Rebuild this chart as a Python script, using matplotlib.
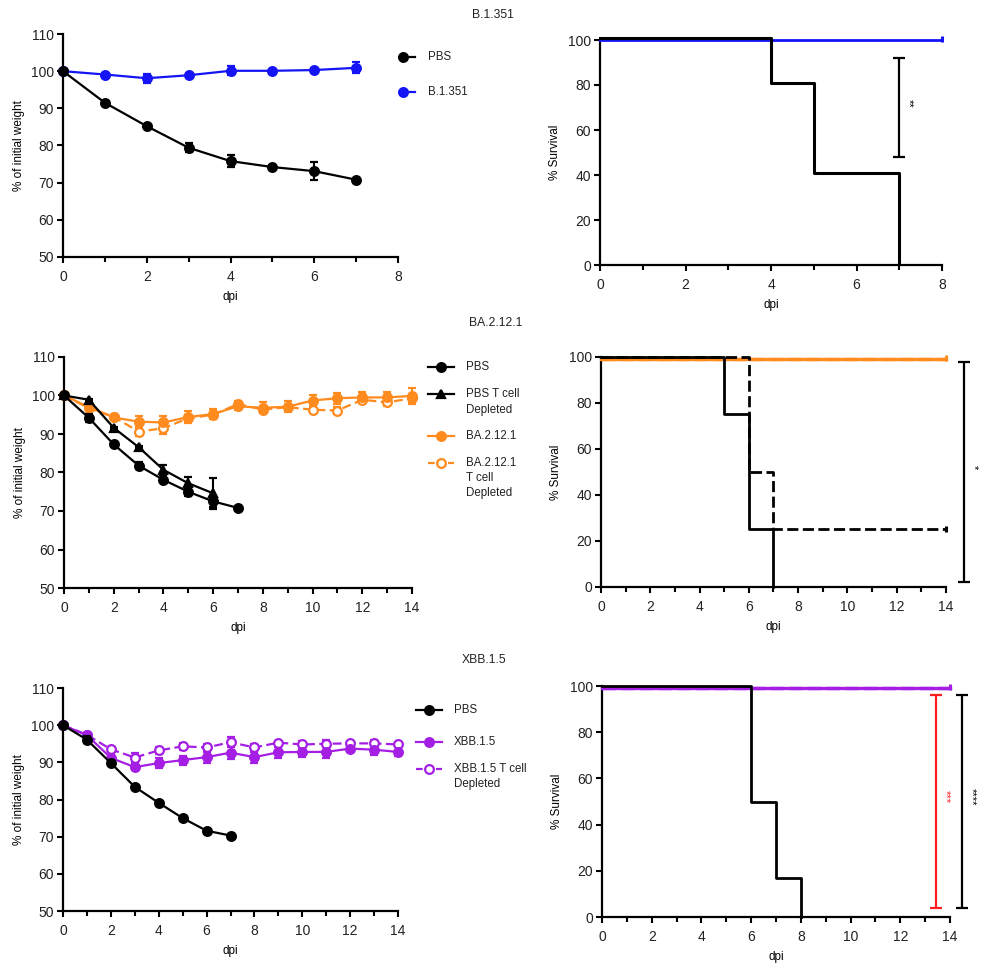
import numpy as np
import matplotlib
matplotlib.use('Agg')
import matplotlib.pyplot as plt
from matplotlib.transforms import offset_copy
from matplotlib.ticker import MultipleLocator

plt.rcParams['font.family'] = ['Liberation Sans', 'DejaVu Sans']
plt.rcParams['font.size'] = 8.5
plt.rcParams['text.color'] = '#222222'

W, H, DPI = 984, 971, 100
BLACK = '#000000'; BLUE = '#1414f5'; ORANGE = '#ff8a1e'; PURPLE = '#a41fe3'; RED = '#ff1f1f'
TICK_FS = 10
LAB_FS = 8.5
LEG_FS = 8.3
TITLE_FS = 8.7

# ---------------- data ----------------
titles = ['B.1.351', 'BA.2.12.1', 'XBB.1.5']

# Panel 1 weight (B.1.351)
w1_days = [0, 1, 2, 3, 4, 5, 6, 7]
w1_pbs = [100, 91.5, 85.2, 79.4, 75.8, 74.2, 73.1, 70.8]
w1_pbs_err = [0, 0.3, 0.3, 1.2, 1.7, 0.3, 2.4, 0.3]
w1_var = [100, 99.1, 98.1, 98.9, 100.1, 100.1, 100.3, 100.9]
w1_var_err = [0, 0.3, 1.2, 0.3, 1.2, 0.3, 0.3, 1.5]

# Panel 2 weight (BA.2.12.1)
w2_days_pbs = [0, 1, 2, 3, 4, 5, 6, 7]
w2_pbs = [100, 94.2, 87.3, 81.8, 78.1, 75.0, 72.5, 70.8]
w2_pbs_err = [0, 1.0, 0.3, 1.0, 0.3, 1.0, 1.5, 0.3]
w2_days_pbst = [0, 1, 2, 3, 4, 5, 6]
w2_pbst = [100, 98.9, 91.6, 86.6, 80.7, 77.2, 74.6]
w2_pbst_err = [0, 0.3, 0.3, 0.3, 1.3, 1.6, 4.0]
w2_days_var = list(range(15))
w2_var = [100, 97.0, 94.3, 93.2, 93.0, 94.4, 95.2, 97.2, 96.8, 97.1, 98.7, 99.3, 99.5, 99.5, 99.9]
w2_var_err = [0, 0.5, 0.5, 1.5, 1.8, 1.5, 1.3, 1.0, 1.4, 1.4, 1.5, 1.4, 1.5, 1.3, 2.0]
w2_vart = [100, 96.7, 94.5, 90.6, 91.5, 94.1, 95.0, 97.8, 96.3, 97.0, 96.3, 96.1, 98.9, 98.2, 99.3]
w2_vart_err = [0, 0.5, 0.5, 1.0, 1.5, 0.8, 0.8, 0.8, 0.8, 0.8, 0.8, 0.8, 0.8, 0.8, 1.0]

# Panel 3 weight (XBB.1.5)
w3_days_pbs = [0, 1, 2, 3, 4, 5, 6, 7]
w3_pbs = [100, 96.1, 89.8, 83.4, 79.1, 75.0, 71.6, 70.3]
w3_pbs_err = [0, 1.0, 0.3, 0.3, 0.3, 0.3, 0.3, 0.3]
w3_days_var = list(range(15))
w3_var = [100, 97.3, 91.2, 88.7, 89.8, 90.6, 91.4, 92.6, 91.4, 92.7, 92.8, 92.8, 93.7, 93.4, 92.8]
w3_var_err = [0, 0.5, 0.5, 0.8, 1.3, 1.2, 1.5, 1.8, 1.5, 1.5, 1.3, 1.5, 1.0, 1.5, 1.2]
w3_vart = [100, 97.4, 93.5, 91.3, 93.2, 94.3, 94.0, 95.4, 94.0, 95.3, 94.8, 95.0, 95.1, 95.1, 94.8]
w3_vart_err = [0, 0.5, 0.5, 1.2, 1.0, 1.0, 1.0, 1.3, 1.0, 0.5, 1.0, 1.0, 0.5, 1.0, 0.5]

# Survival
s1_pbs_t = [0, 4, 5, 7];      s1_pbs_v = [100, 80, 40, 0]
s1_var_t = [0, 8];            s1_var_v = [100, 100]
s2_pbs_t = [0, 5, 6, 7];      s2_pbs_v = [100, 75, 25, 0]
s2_pbst_t = [0, 6, 7, 14];    s2_pbst_v = [100, 50, 25, 25]
s2_var_t = [0, 14];           s2_var_v = [100, 100]
s2_vart_t = [0, 14];          s2_vart_v = [100, 100]
s3_pbs_t = [0, 6, 7, 8];      s3_pbs_v = [100, 50, 16.7, 0]
s3_var_t = [0, 14];           s3_var_v = [100, 100]
s3_vart_t = [0, 14];          s3_vart_v = [100, 100]

# Significance brackets: (x, low, high, label, color)
sig1 = [(7.0, 48, 92, '**', BLACK)]
sig2 = [(14.75, 2, 98, '*', BLACK)]
sig3 = [(13.45, 4, 96, '***', RED), (14.5, 4, 96, '****', BLACK)]

# ---------------- figure ----------------
fig = plt.figure(figsize=(W / DPI, H / DPI), dpi=DPI)


def add_ax(l, r, t, b):
    return fig.add_axes([l / W, 1 - b / H, (r - l) / W, (b - t) / H])


def style(ax, xmax, ylim, ymaj):
    ax.set_xlim(0, xmax)
    ax.set_ylim(*ylim)
    for s in ['top', 'right']:
        ax.spines[s].set_visible(False)
    for s in ['left', 'bottom']:
        ax.spines[s].set_linewidth(1.6)
    ax.xaxis.set_major_locator(MultipleLocator(2))
    ax.xaxis.set_minor_locator(MultipleLocator(1))
    ax.yaxis.set_major_locator(MultipleLocator(ymaj))
    ax.tick_params(which='major', direction='out', length=4, width=1.5, labelsize=TICK_FS,
                   labelcolor='#222222')
    ax.tick_params(axis='x', which='major', pad=5.5)
    ax.tick_params(axis='y', which='major', pad=2.5)
    ax.tick_params(which='minor', direction='out', length=3.5, width=1.5)
    ax.set_xlabel('dpi', fontsize=LAB_FS, labelpad=5)


def weight(ax, x, y, e, color, marker='o', open_=False, dashed=False, z=3):
    ax.errorbar(x, y, yerr=e, color=color, lw=1.6, ls=(0, (4, 2)) if dashed else '-',
                marker=marker, ms=6.3,
                mfc='white' if open_ else color, mec=color, mew=1.6,
                elinewidth=1.5, capsize=3, capthick=1.5, clip_on=False, zorder=z)


def surv(ax, t, v, color, dashed=False, dy=0, z=3, lw=2.0):
    tr = offset_copy(ax.transData, fig=fig, x=0, y=dy, units='dots')
    ax.step(t, v, where='post', color=color, lw=lw, ls=(0, (4, 1.6)) if dashed else '-',
            transform=tr, clip_on=False, zorder=z)


def censor(ax, x, y, color, dy=0):
    tr = offset_copy(ax.transData, fig=fig, x=0, y=dy, units='dots')
    ax.plot([x], [y], marker='|', ms=5, mew=2.2, color=color, transform=tr,
            clip_on=False, zorder=4)


def sig(ax, items):
    for x, lo, hi, lab, c in items:
        ax.errorbar([x], [(lo + hi) / 2], yerr=[(hi - lo) / 2], color=c, lw=1.6,
                    capsize=4.5, capthick=1.6, elinewidth=1.6, clip_on=False, fmt='none')
        trl = offset_copy(ax.transData, fig=fig, x=9, y=0, units='dots')
        ax.text(x, (lo + hi) / 2 + 2, lab, color=c, rotation=270, fontsize=8,
                ha='center', va='center', transform=trl)


# overlay for titles / legends (pixel coords)
ov = fig.add_axes([0, 0, 1, 1], zorder=-1)
ov.set_xlim(0, W); ov.set_ylim(H, 0); ov.axis('off')


def legend_entry(x0, x1, y, tx, label, color, marker='o', open_=False, dashed=False):
    ov.plot([x0, x1], [y, y], color=color, lw=1.6, ls=(0, (3, 1.5)) if dashed else '-')
    ov.plot([(x0 + x1) / 2], [y], marker=marker, ms=6.3, color=color,
            mfc='white' if open_ else color, mec=color, mew=1.6)
    ov.text(tx, y, label, fontsize=LEG_FS, va='center', ha='left', color='#222222')


def leg_text(x, y, s):
    ov.text(x, y, s, fontsize=LEG_FS, va='center', ha='left', color='#222222')


# ---- Row 1 ----
ax = add_ax(63, 398, 34, 257)
style(ax, 8, (50, 110), 10)
weight(ax, w1_days, w1_var, w1_var_err, BLUE)
weight(ax, w1_days, w1_pbs, w1_pbs_err, BLACK, z=4)
ax.set_ylabel('% of initial weight', fontsize=LAB_FS, labelpad=4)

ax = add_ax(600, 942, 40, 265)
style(ax, 8, (0, 100), 20)
surv(ax, s1_var_t, s1_var_v, BLUE, z=3)
censor(ax, 8, 100, BLUE, dy=1)
surv(ax, s1_pbs_t, s1_pbs_v, BLACK, dy=1.5, z=4, lw=2.2)
sig(ax, sig1)
ax.set_ylabel('% Survival', fontsize=LAB_FS, labelpad=5)

ov.text(493, 15, titles[0], ha='center', va='center', fontsize=TITLE_FS)
legend_entry(390, 415, 57, 428, 'PBS', BLACK)
legend_entry(390, 415, 92, 428, 'B.1.351', BLUE)

# ---- Row 2 ----
ax = add_ax(64, 412, 357, 588)
style(ax, 14, (50, 110), 10)
weight(ax, w2_days_var, w2_vart, w2_vart_err, ORANGE, open_=True, dashed=True, z=3)
weight(ax, w2_days_var, w2_var, w2_var_err, ORANGE, z=3)
weight(ax, w2_days_pbst, w2_pbst, w2_pbst_err, BLACK, marker='^', z=4)
weight(ax, w2_days_pbs, w2_pbs, w2_pbs_err, BLACK, z=4)
ax.set_ylabel('% of initial weight', fontsize=LAB_FS, labelpad=4)

ax = add_ax(601, 946, 357, 587)
style(ax, 14, (0, 100), 20)
surv(ax, s2_var_t, s2_var_v, ORANGE, dy=-2, z=3, lw=2.4)
surv(ax, s2_vart_t, s2_vart_v, ORANGE, dashed=True, dy=-2, z=3, lw=2.4)
censor(ax, 14, 100, ORANGE, dy=-1)
surv(ax, s2_pbst_t, s2_pbst_v, BLACK, dashed=True, z=4)
censor(ax, 14, 25, BLACK)
surv(ax, s2_pbs_t, s2_pbs_v, BLACK, z=5)
sig(ax, sig2)
ax.set_ylabel('% Survival', fontsize=LAB_FS, labelpad=5)

ov.text(496, 323, titles[1], ha='center', va='center', fontsize=TITLE_FS)
legend_entry(428, 454, 367, 466, 'PBS', BLACK)
legend_entry(428, 454, 394, 466, 'PBS T cell', BLACK, marker='^')
leg_text(466, 410, 'Depleted')
legend_entry(428, 454, 436, 466, 'BA.2.12.1', ORANGE)
legend_entry(428, 454, 463, 466, 'BA.2.12.1', ORANGE, open_=True, dashed=True)
leg_text(466, 478, 'T cell')
leg_text(466, 493, 'Depleted')

# ---- Row 3 ----
ax = add_ax(63, 398, 688, 911)
style(ax, 14, (50, 110), 10)
weight(ax, w3_days_var, w3_vart, w3_vart_err, PURPLE, open_=True, dashed=True, z=3)
weight(ax, w3_days_var, w3_var, w3_var_err, PURPLE, z=3)
weight(ax, w3_days_pbs, w3_pbs, w3_pbs_err, BLACK, z=4)
ax.set_ylabel('% of initial weight', fontsize=LAB_FS, labelpad=4)

ax = add_ax(602, 950, 686, 917)
style(ax, 14, (0, 100), 20)
surv(ax, s3_var_t, s3_var_v, PURPLE, dy=-2, z=3, lw=2.4)
surv(ax, s3_vart_t, s3_vart_v, PURPLE, dashed=True, dy=-2, z=3, lw=2.4)
censor(ax, 14, 100, PURPLE, dy=-1)
surv(ax, s3_pbs_t, s3_pbs_v, BLACK, z=5)
sig(ax, sig3)
ax.set_ylabel('% Survival', fontsize=LAB_FS, labelpad=5)

ov.text(484, 660, titles[2], ha='center', va='center', fontsize=TITLE_FS)
legend_entry(416, 442, 710, 454, 'PBS', BLACK)
legend_entry(416, 442, 742, 454, 'XBB.1.5', PURPLE)
legend_entry(416, 442, 769, 454, 'XBB.1.5 T cell', PURPLE, open_=True, dashed=True)
leg_text(454, 784, 'Depleted')

fig.savefig('out.png', dpi=DPI, facecolor='white')
